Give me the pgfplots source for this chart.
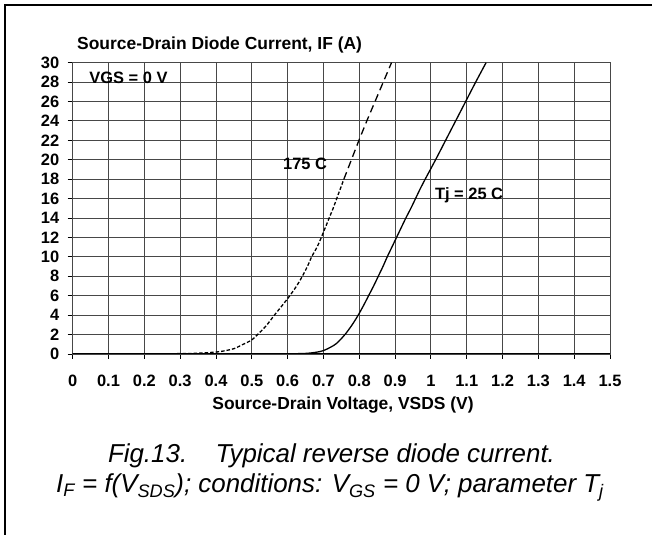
\documentclass[border=0pt]{standalone}
\usepackage{pgfplots}
\pgfplotsset{compat=1.18}
\usepackage{fontspec}
\setmainfont{Liberation Sans}
\begin{document}
\begin{tikzpicture}[x=1bp,y=1bp]
\path[use as bounding box] (0,0) rectangle (652,535);
\fill[white] (0,0) rectangle (652,535);
\draw[black, line width=1.6bp] (5,0) -- (5,530) -- (652,530);
\begin{axis}[
  at={(72.7bp,181bp)}, anchor=south west,
  scale only axis, width=537.3bp, height=291.3bp,
  xmin=0, xmax=1.5, ymin=0, ymax=30,
  xtick={0,0.1,0.2,0.3,0.4,0.5,0.6,0.7,0.8,0.9,1,1.1,1.2,1.3,1.4,1.5},
  xticklabels={0,0.1,0.2,0.3,0.4,0.5,0.6,0.7,0.8,0.9,1,1.1,1.2,1.3,1.4,1.5},
  ytick={0,2,4,6,8,10,12,14,16,18,20,22,24,26,28,30},
  grid=major,
  grid style={black!72, line width=0.9bp},
  axis line style={black!72, line width=0.9bp},
  tick align=outside, xtick pos=left, ytick pos=left,
  major tick length=5bp,
  tick style={black, line width=0.9bp},
  /pgf/number format/assume math mode=true,
  tick label style={font=\fontsize{16.5}{18}\selectfont\bfseries},
  xticklabel style={yshift=-13bp},
  yticklabel style={xshift=-5bp},
  clip=true,
]
\addplot[black, line width=1.5bp] coordinates {(0,0) (1.5,0)};
% 175 C measured part (short dashes)
\addplot[black, line width=1.3bp, dash pattern=on 3.5bp off 2bp, smooth] coordinates {
(0,0) (0.1,0) (0.2,0.01) (0.3,0.04) (0.35,0.08) (0.4,0.2) (0.42,0.3) (0.45,0.55)
(0.476,1.0) (0.5,1.45) (0.516,2.0) (0.54,2.9) (0.563,4.0) (0.585,5.0) (0.606,6.0)
(0.625,7.0) (0.641,8.0) (0.655,9.0) (0.667,10) (0.682,11) (0.694,12) (0.705,13)
(0.716,14) (0.727,15) (0.737,16) (0.747,17) (0.757,18)};
% 175 C extrapolated part (long dashes)
\addplot[black, line width=1.3bp, dash pattern=on 7.5bp off 4.5bp] coordinates {
(0.757,18) (0.778,20) (0.799,22) (0.821,24) (0.844,26) (0.867,28) (0.890,30)};
% Tj = 25 C
\addplot[black, line width=1.3bp, smooth] coordinates {
(0,0) (0.5,0) (0.6,0.02) (0.65,0.06) (0.68,0.18) (0.70,0.35) (0.72,0.7) (0.737,1.1)
(0.76,2.0) (0.78,3.0) (0.797,4.0) (0.812,5.0) (0.826,6.0) (0.84,7.0) (0.853,8.0)
(0.866,9) (0.878,10) (0.891,11) (0.904,12) (0.917,13) (0.930,14) (0.944,15)
(0.957,16) (0.970,17) (0.984,18) (1.013,20) (1.041,22) (1.069,24) (1.097,26)
(1.125,28) (1.154,30)};
\node[anchor=base west, inner sep=0pt, font=\fontsize{16.5}{18}\selectfont\bfseries] at (axis cs:0.046,27.9) {VGS = 0 V};
\node[anchor=base west, inner sep=0pt, font=\fontsize{16.5}{18}\selectfont\bfseries] at (axis cs:0.587,18.95) {175 C};
\node[anchor=base west, inner sep=0pt, font=\fontsize{16.5}{18}\selectfont\bfseries] at (axis cs:1.011,15.86) {Tj = 25 C};
\end{axis}
\node[anchor=base west, inner sep=0pt, font=\fontsize{17.5}{19}\selectfont\bfseries] at (77,485) {Source-Drain Diode Current, IF (A)};
\node[anchor=base, inner sep=0pt, font=\fontsize{17.5}{19}\selectfont\bfseries] at (343,125) {Source-Drain Voltage, VSDS (V)};
\node[anchor=base, inner sep=0pt, font=\fontsize{26}{30}\selectfont\itshape] at (331.5,72) {Fig.13.\hspace{1.1em}Typical reverse diode current.};
\node[anchor=base, inner sep=0pt, font=\fontsize{26}{30}\selectfont\itshape] at (330,42) {I\textsubscript{F} = f(V\textsubscript{SDS}); conditions: V\textsubscript{GS} = 0 V; parameter T\textsubscript{j}};
\end{tikzpicture}
\end{document}
